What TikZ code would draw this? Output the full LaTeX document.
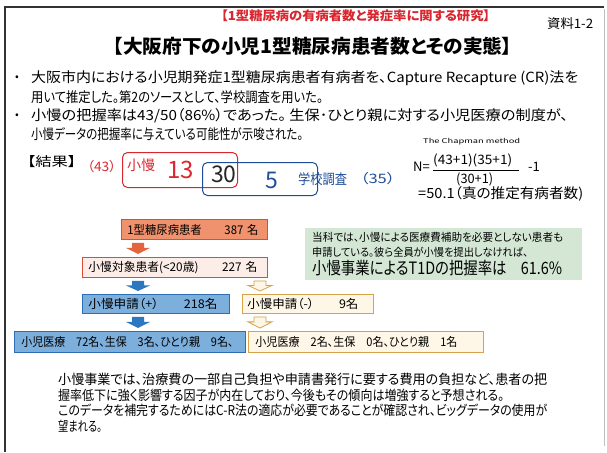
\documentclass[tikz,border=0pt]{standalone}
\usepackage{fontspec}
\setmainfont{Noto Sans CJK JP}[RawFeature=+palt]
\usepackage{graphicx}
\usetikzlibrary{calc}
\definecolor{myred}{HTML}{D9262F}
\definecolor{myblue}{HTML}{1F4E99}
\definecolor{salmonfill}{HTML}{F0926E}
\definecolor{salmonline}{HTML}{E24A33}
\definecolor{pinkfill}{HTML}{FCEDE8}
\definecolor{bluefill}{HTML}{7DAFDD}
\definecolor{blueline}{HTML}{2F6DB5}
\definecolor{creamfill}{HTML}{FEF6E6}
\definecolor{goldline}{HTML}{D6A24A}
\definecolor{greenfill}{HTML}{D4E7D5}
\definecolor{arroworange}{HTML}{E4643F}
\definecolor{arrowblue}{HTML}{2C77C0}
\newcommand\fitw[2]{\resizebox{#1pt}{\height}{#2}}
\newcommand\fsz[1]{\fontsize{#1}{#1}\selectfont}
% block arrow: style, x-coordinate, top node, bottom node
\newcommand\blockarr[4]{%
  \path[#1] let \p1=($(#3.south -| #2)+(0,3)$), \p2=($(#4.north -| #2)+(0,-3)$), \n1={\y1-\y2} in
   (\x1-6pt,\y1) -- (\x1+6pt,\y1) -- (\x1+6pt,\y2+0.55*\n1) -- (\x1+12pt,\y2+0.55*\n1)
   -- (\x1,\y2) -- (\x1-12pt,\y2+0.55*\n1) -- (\x1-6pt,\y2+0.55*\n1) -- cycle;}
\begin{document}
\begin{tikzpicture}[x=1pt,y=-1pt,
  txt/.style={anchor=west, inner sep=0pt},
  flowbox/.style={anchor=north west, line width=0.9pt, inner ysep=0pt, align=left, font=\fsz{12}},
  salbox/.style={flowbox, draw=salmonline, fill=salmonfill},
  pinkbox/.style={flowbox, draw=salmonline, fill=pinkfill},
  bluebox/.style={flowbox, draw=blueline, fill=bluefill},
  creambox/.style={flowbox, draw=goldline, fill=creamfill},
  orangearr/.style={fill=arroworange},
  bluearr/.style={fill=arrowblue},
  hollowarr/.style={draw=goldline, fill=creamfill, line width=0.8pt},
  venn/.style={rounded corners=5pt, line width=1pt, anchor=north west, inner sep=0pt}
]
\useasboundingbox (0,0) rectangle (607,452);
\fill[white] (0,0) rectangle (607,452);
% frame
\draw[line width=1.2pt, black!80] (5,452) -- (5,7) -- (604,7);
\draw[line width=0.6pt, black!25] (604,9) -- (604,446);

% header
\node[txt, text=myred, font=\fsz{12.5}\bfseries] (sub) at (221,16) {\fitw{269}{【1型糖尿病の有病者数と発症率に関する研究】}};
\node[txt, font=\fsz{13}] (doc) at (547,24) {\fitw{46}{資料1-2}};
\node[txt, font=\fsz{19}\bfseries] (title) at (113,46) {\fitw{399}{【大阪府下の小児1型糖尿病患者数とその実態】}};

% bullets
\node[txt, font=\fsz{11}] (bul1) at (15,78) {•};
\node[txt, font=\fsz{14}] (l1) at (31,78) {\fitw{547}{大阪市内における小児期発症1型糖尿病患者有病者を、Capture Recapture (CR)法を}};
\node[txt, font=\fsz{14}] (l2) at (31,97) {\fitw{292}{用いて推定した。第2のソースとして、学校調査を用いた。}};
\node[txt, font=\fsz{11}] (bul2) at (15,116) {•};
\node[txt, font=\fsz{14}] (l3) at (31,116) {\fitw{537}{小慢の把握率は43/50（86\%）であった。 生保･ひとり親に対する小児医療の制度が、}};
\node[txt, font=\fsz{14}] (l4) at (31,134) {\fitw{272}{小慢データの把握率に与えている可能性が示唆された。}};

% result / venn
\node[txt, font=\fsz{13}] (res) at (27,162) {\fitw{49}{【結果】}};
\node[venn, draw=myred, minimum width=115pt, minimum height=35pt] (vA) at (122,152) {};
\node[venn, draw=myblue, minimum width=115pt, minimum height=33pt] (vB) at (202,162) {};
\node[txt, text=myred, font=\fsz{13}] (n43) at (87,167) {\fitw{29}{（43）}};
\node[txt, text=myred, font=\fsz{14}] (sh) at (127,165) {\fitw{28}{小慢}};
\node[txt, text=myred, font=\fsz{24}] (n13) at (167,170) {13};
\node[txt, text=black!85, font=\fsz{23}] (n30) at (211,174) {30};
\node[txt, text=myblue, font=\fsz{23}] (n5) at (265,180) {5};
\node[txt, text=myblue, font=\fsz{14}] (gk) at (298,179) {\fitw{49}{学校調査}};
\node[txt, text=myblue, font=\fsz{13}] (n35) at (360,179) {\fitw{35}{（35）}};

% Chapman
\node[txt, font=\fsz{6.5}] (chap) at (423,142) {\fitw{97}{The Chapman method}};
\node[txt, font=\fsz{13}] (neq) at (413,167) {N=};
\node[txt, font=\fsz{13}] (num) at (433,160) {\fitw{79}{(43+1)(35+1)}};
\coordinate (barL) at (433,170.5);
\coordinate (barR) at (519,170.5);
\draw[line width=0.7pt] (barL) -- (barR);
\node[txt, font=\fsz{13}] (den) at (456,179.5) {\fitw{37}{(30+1)}};
\node[txt, font=\fsz{13}] (m1) at (528,167) {-1};
\node[txt, font=\fsz{14}] (est) at (418,194) {\fitw{165}{=50.1（真の推定有病者数)}};

% green note
\node[anchor=north west, fill=greenfill, minimum width=277pt, minimum height=52pt, inner sep=0pt] (grn) at (305,228) {};
\node[txt, font=\fsz{11}] (g1) at (312,237) {\fitw{251}{当科では、小慢による医療費補助を必要としない患者も}};
\node[txt, font=\fsz{11}] (g2) at (312,252) {\fitw{216}{申請している。彼ら全員が小慢を提出しなければ、}};
\node[txt, font=\fsz{17}] (g3) at (312,268) {\fitw{250}{小慢事業によるT1Dの把握率は　61.6\%}};

% flow boxes
\node[salbox, inner xsep=6pt, text width=134pt, minimum height=20pt] (b1) at (121,219) {\fitw{131}{1型糖尿病患者　　387 名}};
\node[pinkbox, inner xsep=6pt, text width=173pt, minimum height=20pt] (b2) at (82,257) {\fitw{169}{小慢対象患者(<20歳)　　227 名}};
\node[bluebox, inner xsep=6pt, text width=135pt, minimum height=19pt] (b3) at (82,294) {\fitw{129}{小慢申請（+）　　218名}};
\node[creambox, inner xsep=5pt, text width=121pt, minimum height=19pt] (b5) at (242,294) {\fitw{111}{小慢申請（-）　　9名}};
\node[bluebox, inner xsep=7pt, text width=217pt, minimum height=21pt] (b4) at (14,331) {\fitw{212}{小児医療　72名、生保　3名、ひとり親　9名、}};
\node[creambox, inner xsep=7pt, text width=221pt, minimum height=21pt] (b6) at (248,331) {\fitw{202}{小児医療　2名、生保　0名、ひとり親　1名}};

\coordinate (ax) at (138,0);
\coordinate (hx) at (260,0);
\blockarr{orangearr}{ax}{b1}{b2}
\blockarr{bluearr}{ax}{b2}{b3}
\blockarr{bluearr}{ax}{b3}{b4}
\blockarr{hollowarr}{hx}{b2}{b5}
\blockarr{hollowarr}{hx}{b5}{b6}

% bottom text
\node[txt, font=\fsz{13.5}] (c1) at (58,379) {\fitw{489}{小慢事業では、治療費の一部自己負担や申請書発行に要する費用の負担など、患者の把}};
\node[txt, font=\fsz{13.5}] (c2) at (58,395) {\fitw{446}{握率低下に強く影響する因子が内在しており、今後もその傾向は増強すると予想される。}};
\node[txt, font=\fsz{13.5}] (c3) at (58,410) {\fitw{489}{このデータを補完するためにはC-R法の適応が必要であることが確認され、ビッグデータの使用が}};
\node[txt, font=\fsz{13.5}] (c4) at (58,426) {\fitw{44}{望まれる。}};
\end{tikzpicture}
\end{document}
